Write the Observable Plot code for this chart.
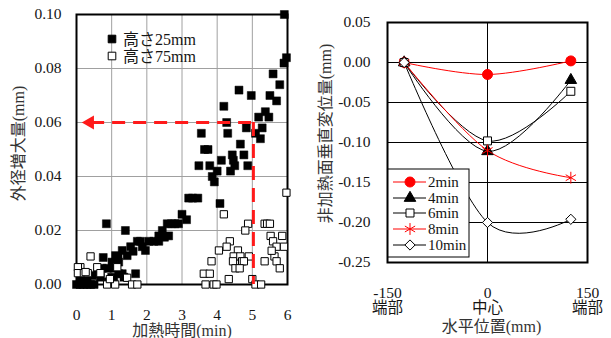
<!DOCTYPE html>
<html><head><meta charset="utf-8">
<script src="https://cdn.jsdelivr.net/npm/d3@7"></script>
<script src="https://cdn.jsdelivr.net/npm/@observablehq/plot@0.6"></script>
<style>
body{margin:0;background:#fff;}
#wrap{position:relative;width:611px;height:338px;overflow:hidden;background:#fff;}
#wrap svg{position:absolute;top:0;}
</style></head><body><div id="wrap"></div>
<script>
// ---------- Left panel data ----------
const leftXTicks = [0, 1, 2, 3, 4, 5, 6];
const leftYTicks = [0, 0.02, 0.04, 0.06, 0.08, 0.10];
const leftSeriesNames = ["高さ25mm", "高さ75mm"];
// [time (min), diameter increase (mm)]
const height25 = [
  [5.91,0.100],[5.97,0.084],[5.90,0.082],[5.59,0.078],[5.78,0.074],[5.50,0.070],[5.69,0.068],
  [4.62,0.072],[4.97,0.070],[4.19,0.066],[5.37,0.064],[5.18,0.062],[5.47,0.062],[4.27,0.060],
  [3.55,0.056],[4.30,0.056],[4.83,0.058],[5.28,0.058],[5.09,0.056],[5.23,0.054],[4.66,0.052],
  [3.64,0.050],[3.74,0.050],[4.43,0.048],[4.76,0.048],[4.12,0.046],[4.46,0.046],[4.50,0.044],
  [3.48,0.044],[3.79,0.044],[4.87,0.044],[4.38,0.042],[4.00,0.042],[3.86,0.040],[3.92,0.038],
  [4.08,0.030],[3.19,0.032],[3.30,0.032],[3.45,0.032],[3.00,0.026],[3.13,0.024],
  [2.58,0.0225],[2.70,0.0225],[2.80,0.0225],[2.90,0.0225],[2.44,0.020],[2.62,0.018],[2.50,0.0175],
  [2.34,0.018],[2.34,0.016],[2.06,0.016],[2.20,0.016],[1.82,0.016],[1.73,0.016],[1.54,0.014],
  [1.87,0.014],[1.96,0.0126],[1.61,0.0123],[1.30,0.0126],[1.44,0.0107],[1.11,0.0107],[1.18,0.010],
  [1.20,0.0083],[1.01,0.0083],[1.10,0.008],[0.85,0.0225],[1.39,0.020],[0.76,0.010],[0.87,0.006],
  [0.73,0.006],[1.06,0.006],[1.20,0.004],[1.68,0.004],[0.59,0.004],[0.68,0.0027],[0.45,0.0033],
  [1.30,0.004],[1.35,0.0027],[1.00,0.0027],[1.06,0.002],[0.30,0.002],[0.11,0.002],[0.90,0.001],
  [0.00,0],[0.10,0],[0.20,0],[0.30,0],[0.40,0],[0.50,0]
];
const height75 = [
  [5.97,0.034],[4.19,0.026],[4.88,0.0225],[4.80,0.020],[5.35,0.0225],[5.42,0.0225],[5.50,0.0225],
  [5.85,0.018],[5.52,0.018],[5.59,0.016],[5.69,0.014],[5.90,0.014],[4.36,0.016],[4.27,0.014],
  [4.05,0.0126],[4.59,0.0126],[3.84,0.0086],[4.47,0.0104],[4.66,0.0104],[4.90,0.0104],[4.45,0.0086],
  [4.71,0.0086],[4.76,0.0086],[4.52,0.006],[4.64,0.006],[5.35,0.0086],[5.63,0.0104],[5.69,0.0086],
  [5.78,0.006],[5.55,0.0125],[3.62,0.004],[3.79,0.004],[4.33,0.002],[5.00,0.002],[3.67,0],[3.90,0],
  [3.98,0],[5.09,0],[5.25,0],[0.40,0.0104],[0.11,0.0064],[0.04,0.0064],[0.59,0.0064],[1.16,0.0064],
  [0.04,0.0042],[0.21,0.0042],[0.32,0.0042],[0.68,0.0042],[1.44,0.0025],[0.87,0],[1.10,0],
  [1.58,0],[1.73,0],[0.26,0.0046],[0.95,0.002]
];
// annotation: 0.06 mm reached at ~5.03 min
const markLevel = 0.06;
const markTime = 5.03;
const arrowTipTime = 0.38;

// ---------- Right panel data ----------
const positions = [-125, 0, 125];
const rightXTicks = [-150, 0, 150];
const rightXTickLabels = ["-150\n端部", "0\n中心", "150\n端部"];
const rightYTicks = [0.05, 0, -0.05, -0.10, -0.15, -0.20, -0.25];
const seriesNames = ["2min", "4min", "6min", "8min", "10min"];
const disp2 = [0, -0.015, 0.002];
const disp4 = [0, -0.111, -0.022];
const disp6 = [0, -0.098, -0.036];
const disp8 = [0, -0.110, -0.144];
const disp10 = [0, -0.200, -0.196];
const seriesValues = [disp2, disp4, disp6, disp8, disp10];

// ---------- styles ----------
const FONT = "'Liberation Serif','Noto Sans CJK JP',serif";
const baseStyle = {fontFamily: FONT, fontSize: "15.5px", color: "#151515", background: "white", overflow: "visible"};
const seriesStyle = [
  {symbol: "circle", r: 5, stroke: "red", fill: "red", line: "red"},
  {symbol: "triangle", r: 4.3, stroke: "black", fill: "black", line: "black"},
  {symbol: "square", r: 4.5, stroke: "black", fill: "white", line: "black"},
  {symbol: "asterisk", r: 5.6, stroke: "red", fill: "none", line: "red"},
  {symbol: "diamond2", r: 4.6, stroke: "black", fill: "white", line: "black"}
];

const wrap = document.getElementById("wrap");

// ---------- Left chart ----------
const L = {w: 300, h: 338, ml: 76, mr: 13, mt: 14, mb: 54};
const leftPlot = Plot.plot({
  width: L.w, height: L.h,
  marginLeft: L.ml, marginRight: L.mr, marginTop: L.mt, marginBottom: L.mb,
  style: baseStyle,
  x: {domain: [0, 6]},
  y: {domain: [0, 0.1]},
  marks: [
    Plot.ruleX(leftXTicks.slice(1, -1), {stroke: "#a0a0a0", strokeWidth: 1}),
    Plot.ruleY(leftYTicks.slice(1, -1), {stroke: "#a0a0a0", strokeWidth: 1}),
    Plot.axisX({ticks: leftXTicks, tickSize: 0, tickPadding: 24, label: null, tickFormat: d => String(d)}),
    Plot.axisY({ticks: leftYTicks, tickSize: 0, tickPadding: 15, label: null, tickFormat: d => d.toFixed(2)}),
    Plot.frame({stroke: "black", strokeWidth: 2}),
    Plot.dot(height25, {x: d => d[0], y: d => d[1], symbol: "square", r: 4.5, fill: "black", stroke: "black", strokeWidth: 0.5}),
    Plot.dot(height75, {x: d => d[0], y: d => d[1], symbol: "square", r: 4.1, fill: "white", stroke: "black", strokeWidth: 1}),
    Plot.ruleY([markLevel], {x1: arrowTipTime + 0.05, x2: markTime, stroke: "#ff1a1a", strokeWidth: 3, strokeDasharray: "13,8"}),
    Plot.ruleX([markTime], {y1: markLevel, y2: 0, stroke: "#ff1a1a", strokeWidth: 3, strokeDasharray: "14,8"}),
    Plot.dot([markLevel], {x: arrowTipTime, y: d => d, symbol: "triangle", r: 5.2, rotate: -90, fill: "#ff1a1a", stroke: "none"}),
    Plot.text(["加熱時間(min)"], {frameAnchor: "bottom", lineAnchor: "middle", textAnchor: "middle", dy: 46, fill: "#333", fontSize: 16}),
    Plot.text(["外径増大量(mm)"], {frameAnchor: "left", lineAnchor: "middle", textAnchor: "middle", dx: -58, dy: -6, rotate: -90, fill: "#333", fontSize: 16})
  ]
});
leftPlot.style.left = "0px";
wrap.appendChild(leftPlot);

// left legend
{
  const svg = d3.select(leftPlot);
  const g = svg.append("g").attr("font-family", FONT).attr("font-size", 16).attr("text-anchor", "start");
  const rows = [{y: 39, fill: "black"}, {y: 56, fill: "white"}];
  leftSeriesNames.forEach((name, i) => {
    g.append("path").attr("transform", `translate(112,${rows[i].y})`)
      .attr("d", d3.symbol(d3.symbolSquare, Math.PI * 4.3 * 4.3)())
      .attr("fill", rows[i].fill).attr("stroke", "black");
    g.append("text").attr("x", 123).attr("y", rows[i].y).attr("dy", "0.35em").attr("fill", "#151515").text(name);
  });
}

// ---------- Right chart ----------
const R = {w: 311, h: 338, ml: 87, mr: 24, mt: 22, mb: 76};
const lineMarks = [];
const dotMarks = [];
seriesValues.forEach((vals, i) => {
  const rows = positions.map((p, j) => ({x: p, y: vals[j]}));
  const s = seriesStyle[i];
  lineMarks.push(Plot.line(rows, {x: "x", y: "y", curve: "cardinal", stroke: s.line, strokeWidth: 1}));
  dotMarks.push(Plot.dot(rows, {x: "x", y: "y", symbol: s.symbol, r: s.r, fill: s.fill, stroke: s.stroke, strokeWidth: 1}));
});
const rightPlot = Plot.plot({
  width: R.w, height: R.h,
  marginLeft: R.ml, marginRight: R.mr, marginTop: R.mt, marginBottom: R.mb,
  style: baseStyle,
  x: {domain: [-150, 150]},
  y: {domain: [-0.25, 0.05]},
  marks: [
    Plot.ruleY(rightYTicks.slice(1, -1), {stroke: "black", strokeWidth: 1}),
    Plot.ruleX([0], {stroke: "black", strokeWidth: 1}),
    Plot.axisX({ticks: rightXTicks, tickSize: 0, tickPadding: 24, label: null,
      tickFormat: d => rightXTickLabels[rightXTicks.indexOf(d)]}),
    Plot.axisY({ticks: rightYTicks, tickSize: 0, tickPadding: 17, label: null, tickFormat: d => d.toFixed(2)}),
    Plot.frame({stroke: "black", strokeWidth: 2}),
    ...lineMarks,
    ...dotMarks,
    Plot.text(["水平位置(mm)"], {frameAnchor: "bottom", lineAnchor: "middle", textAnchor: "middle", dx: 4, dy: 64, fill: "#333", fontSize: 16}),
    Plot.text(["非加熱面垂直変位量(mm)"], {frameAnchor: "left", lineAnchor: "middle", textAnchor: "middle", dx: -62, dy: -9, rotate: -90, fill: "#333", fontSize: 16})
  ]
});
rightPlot.style.left = "300px";
wrap.appendChild(rightPlot);

// right legend
{
  const svg = d3.select(rightPlot);
  const g = svg.append("g").attr("font-family", FONT).attr("font-size", 15).attr("text-anchor", "start");
  g.append("rect").attr("x", 88).attr("y", 169).attr("width", 81).attr("height", 88)
    .attr("fill", "white").attr("stroke", "black").attr("stroke-width", 1);
  const symMap = {circle: d3.symbolCircle, triangle: d3.symbolTriangle, square: d3.symbolSquare, asterisk: d3.symbolAsterisk, diamond2: d3.symbolDiamond2};
  const ys = [182, 198, 213, 229, 245];
  seriesNames.forEach((name, i) => {
    const s = seriesStyle[i];
    g.append("line").attr("x1", 93).attr("x2", 126).attr("y1", ys[i]).attr("y2", ys[i]).attr("stroke", s.line);
    g.append("path").attr("transform", `translate(110,${ys[i]})`)
      .attr("d", d3.symbol(symMap[s.symbol], Math.PI * s.r * s.r)())
      .attr("fill", s.fill).attr("stroke", s.stroke);
    g.append("text").attr("x", 128).attr("y", ys[i]).attr("dy", "0.35em").attr("fill", "#151515").text(name);
  });
}
</script></body></html>
